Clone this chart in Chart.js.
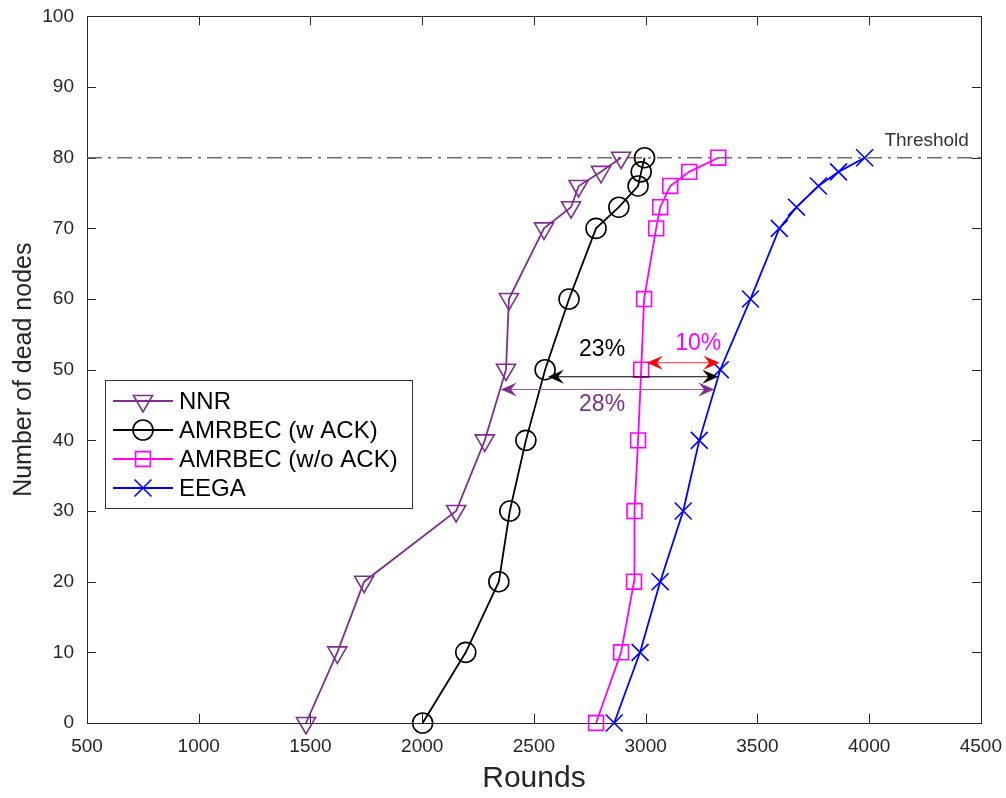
<!DOCTYPE html>
<html><head><meta charset="utf-8">
<script src="https://cdn.jsdelivr.net/npm/chart.js@4.4.0/dist/chart.umd.min.js"></script>
<style>html,body{margin:0;padding:0;background:#fff;} #wrap{width:1006px;height:798px;position:relative;}</style>
</head><body><div id="wrap"><canvas id="c" width="1006" height="798"></canvas></div>
<script>
// ---------- data ----------
const seriesNames = ['NNR', 'AMRBEC (w ACK)', 'AMRBEC (w/o ACK)', 'EEGA'];
const deadNodes   = [0, 10, 20, 30, 40, 50, 60, 70, 73, 76, 78, 80];
const roundsNNR      = [1480, 1620, 1740, 2152, 2280, 2375, 2388, 2545, 2666, 2700, 2800, 2890];
const roundsAckW     = [2002, 2195, 2343, 2392, 2464, 2550, 2657, 2778, 2880, 2966, 2980, 2995];
const roundsAckWo    = [2778, 2890, 2948, 2950, 2966, 2980, 2993, 3047, 3065, 3110, 3195, 3325];
const roundsEEGA     = [2859, 2975, 3065, 3168, 3240, 3334, 3469, 3598, 3675, 3773, 3863, 3980];
const xTicks = [500, 1000, 1500, 2000, 2500, 3000, 3500, 4000, 4500];
const yTicks = [0, 10, 20, 30, 40, 50, 60, 70, 80, 90, 100];
const thresholdValue = 80;
const thresholdLabel = 'Threshold';
// gap annotations (double arrows), in data units
const gapLabels   = ['10%', '23%', '28%'];
const gapFrom     = [3005, 2563, 2352];
const gapTo       = [3330, 3325, 3307];
const gapLevel    = [51, 49, 47.2];
const gapLabelX   = [3235, 2805, 2805];
const gapLabelY   = [53.7, 52.8, 45.0];

// ---------- styles ----------
const FONT = "'Liberation Sans', Arial, Helvetica, sans-serif";
const AXIS_COLOR = '#262626';
const colors = ['#7E2F8E', '#000000', '#FF00FF', '#0000FF'];
const pStyles = ['triangle', 'circle', 'rect', 'crossRot'];
const pRot = [180, 0, 0, 0];
const pRad = [11, 10, 10.5, 12];
const gapColors = ['#FF0000', '#000000', '#7E2F8E'];
const gapLineColors = ['#FF5A5A', '#000000', '#9a5aa6'];
const gapTextColors = ['#FF00FF', '#000000', '#7E2F8E'];

const mk = (xs, ys) => xs.map((x, i) => ({x: x, y: ys[i]}));
const allRounds = [roundsNNR, roundsAckW, roundsAckWo, roundsEEGA];

const datasets = allRounds.map((r, i) => ({
  label: seriesNames[i],
  data: mk(r, deadNodes),
  borderColor: colors[i],
  backgroundColor: 'rgba(0,0,0,0)',
  pointBorderColor: colors[i],
  pointBackgroundColor: 'rgba(0,0,0,0)',
  pointStyle: pStyles[i],
  pointRotation: pRot[i],
  pointRadius: pRad[i],
  pointHoverRadius: pRad[i],
  pointBorderWidth: 1.6,
  borderWidth: 1.8,
  showLine: true,
  tension: 0,
  clip: false,
  order: 1
}));
datasets.push({
  label: thresholdLabel,
  data: [{x: xTicks[0], y: thresholdValue}, {x: xTicks[xTicks.length - 1], y: thresholdValue}],
  borderColor: '#6b6b6b',
  borderDash: [15, 6, 3, 6],
  borderWidth: 1.6,
  pointRadius: 0,
  showLine: true,
  order: 5
});

function drawMarker(ctx, style, rot, r, x, y, color, lw) {
  ctx.save();
  ctx.strokeStyle = color; ctx.fillStyle = 'rgba(0,0,0,0)'; ctx.lineWidth = lw;
  if (Chart.helpers && Chart.helpers.drawPoint) {
    Chart.helpers.drawPoint(ctx, {pointStyle: style, rotation: rot, radius: r, borderWidth: lw}, x, y);
  } else {
    ctx.beginPath();
    if (style === 'circle') ctx.arc(x, y, r, 0, Math.PI * 2);
    else if (style === 'rect') { const s = r * Math.SQRT1_2; ctx.rect(x - s, y - s, 2 * s, 2 * s); }
    else if (style === 'triangle') { ctx.moveTo(x, y + r); ctx.lineTo(x - r * 0.866, y - r / 2); ctx.lineTo(x + r * 0.866, y - r / 2); ctx.closePath(); }
    else { const s = r * Math.SQRT1_2; ctx.moveTo(x - s, y - s); ctx.lineTo(x + s, y + s); ctx.moveTo(x + s, y - s); ctx.lineTo(x - s, y + s); }
    ctx.stroke();
  }
  ctx.restore();
}

function arrowHead(ctx, tx, ty, dir, color) {
  const L = 16, W = 7, N = 6;
  ctx.save();
  ctx.fillStyle = color;
  ctx.beginPath();
  ctx.moveTo(tx, ty);
  ctx.lineTo(tx - dir * L, ty - W);
  ctx.lineTo(tx - dir * (L - N), ty);
  ctx.lineTo(tx - dir * L, ty + W);
  ctx.closePath();
  ctx.fill();
  ctx.restore();
}

const framePlugin = {
  id: 'frame',
  beforeDatasetsDraw(chart) {
    const {ctx, chartArea: a, scales: {x, y}} = chart;
    ctx.save();
    ctx.strokeStyle = AXIS_COLOR; ctx.lineWidth = 1;
    ctx.strokeRect(Math.round(a.left) + 0.5, Math.round(a.top) + 0.5, Math.round(a.right - a.left), Math.round(a.bottom - a.top));
    ctx.beginPath();
    const T = 9;
    xTicks.forEach(v => {
      const px = Math.round(x.getPixelForValue(v)) + 0.5;
      ctx.moveTo(px, a.bottom); ctx.lineTo(px, a.bottom - T);
      ctx.moveTo(px, a.top); ctx.lineTo(px, a.top + T);
    });
    yTicks.forEach(v => {
      const py = Math.round(y.getPixelForValue(v)) + 0.5;
      ctx.moveTo(a.left, py); ctx.lineTo(a.left + T, py);
      ctx.moveTo(a.right, py); ctx.lineTo(a.right - T, py);
    });
    ctx.stroke();
    ctx.restore();
  },
  afterDraw(chart) {
    const {ctx, chartArea: a, scales: {x, y}} = chart;
    // threshold label
    ctx.save();
    ctx.fillStyle = '#333333';
    ctx.font = '19px ' + FONT;
    ctx.textAlign = 'right'; ctx.textBaseline = 'middle';
    ctx.fillText(thresholdLabel, a.right - 12, y.getPixelForValue(thresholdValue) - 17);
    ctx.restore();
    // gap arrows
    gapLabels.forEach((lab, i) => {
      const x1 = x.getPixelForValue(gapFrom[i]), x2 = x.getPixelForValue(gapTo[i]);
      const py = y.getPixelForValue(gapLevel[i]);
      ctx.save();
      ctx.strokeStyle = gapLineColors[i]; ctx.lineWidth = 1.2;
      ctx.beginPath(); ctx.moveTo(x1 + 8, py); ctx.lineTo(x2 - 8, py); ctx.stroke();
      ctx.restore();
      arrowHead(ctx, x1, py, -1, gapColors[i]);
      arrowHead(ctx, x2, py, 1, gapColors[i]);
      ctx.save();
      ctx.fillStyle = gapTextColors[i];
      ctx.font = '23px ' + FONT;
      ctx.textAlign = 'center'; ctx.textBaseline = 'middle';
      ctx.fillText(lab, x.getPixelForValue(gapLabelX[i]), y.getPixelForValue(gapLabelY[i]));
      ctx.restore();
    });
    // legend
    const bx = 105, by = 380, bw = 307, bh = 128;
    ctx.save();
    ctx.fillStyle = '#ffffff';
    ctx.fillRect(bx, by, bw, bh);
    ctx.strokeStyle = '#333333'; ctx.lineWidth = 1;
    ctx.strokeRect(bx + 0.5, by + 0.5, bw, bh);
    ctx.restore();
    seriesNames.forEach((name, i) => {
      const cy = by + 21 + i * 29;
      ctx.save();
      ctx.strokeStyle = colors[i]; ctx.lineWidth = 1.8;
      ctx.beginPath(); ctx.moveTo(113, cy); ctx.lineTo(173, cy); ctx.stroke();
      ctx.restore();
      drawMarker(ctx, pStyles[i], pRot[i], pRad[i], 143, cy, colors[i], 1.6);
      ctx.save();
      ctx.fillStyle = '#000000';
      ctx.font = '24px ' + FONT;
      ctx.textAlign = 'left'; ctx.textBaseline = 'middle';
      ctx.fillText(name, 179, cy + 1);
      ctx.restore();
    });
  }
};

new Chart(document.getElementById('c'), {
  type: 'scatter',
  data: {datasets: datasets},
  options: {
    responsive: false,
    animation: false,
    devicePixelRatio: 1,
    layout: {padding: {left: 0, right: 23, top: 13, bottom: 0}},
    plugins: {legend: {display: false}, tooltip: {enabled: false}},
    scales: {
      x: {
        type: 'linear', min: xTicks[0], max: xTicks[xTicks.length - 1],
        afterBuildTicks: s => { s.ticks = xTicks.map(v => ({value: v})); },
        afterFit: s => { s.height = 75; },
        grid: {display: false}, border: {display: false},
        ticks: {font: {family: FONT, size: 19}, color: AXIS_COLOR, padding: 4, maxRotation: 0, autoSkip: false,
                 callback: v => String(v)},
        title: {display: true, text: 'Rounds', color: AXIS_COLOR, font: {family: FONT, size: 30}, padding: {top: 0, bottom: 1}}
      },
      y: {
        type: 'linear', min: yTicks[0], max: yTicks[yTicks.length - 1],
        afterBuildTicks: s => { s.ticks = yTicks.map(v => ({value: v})); },
        afterFit: s => { s.width = 87; },
        grid: {display: false}, border: {display: false},
        ticks: {font: {family: FONT, size: 19}, color: AXIS_COLOR, padding: 5, autoSkip: false,
                 callback: v => String(v)},
        title: {display: true, text: 'Number of dead nodes', color: AXIS_COLOR, font: {family: FONT, size: 25}, padding: {top: 9, bottom: 0}}
      }
    }
  },
  plugins: [framePlugin]
});
</script>
</body></html>
